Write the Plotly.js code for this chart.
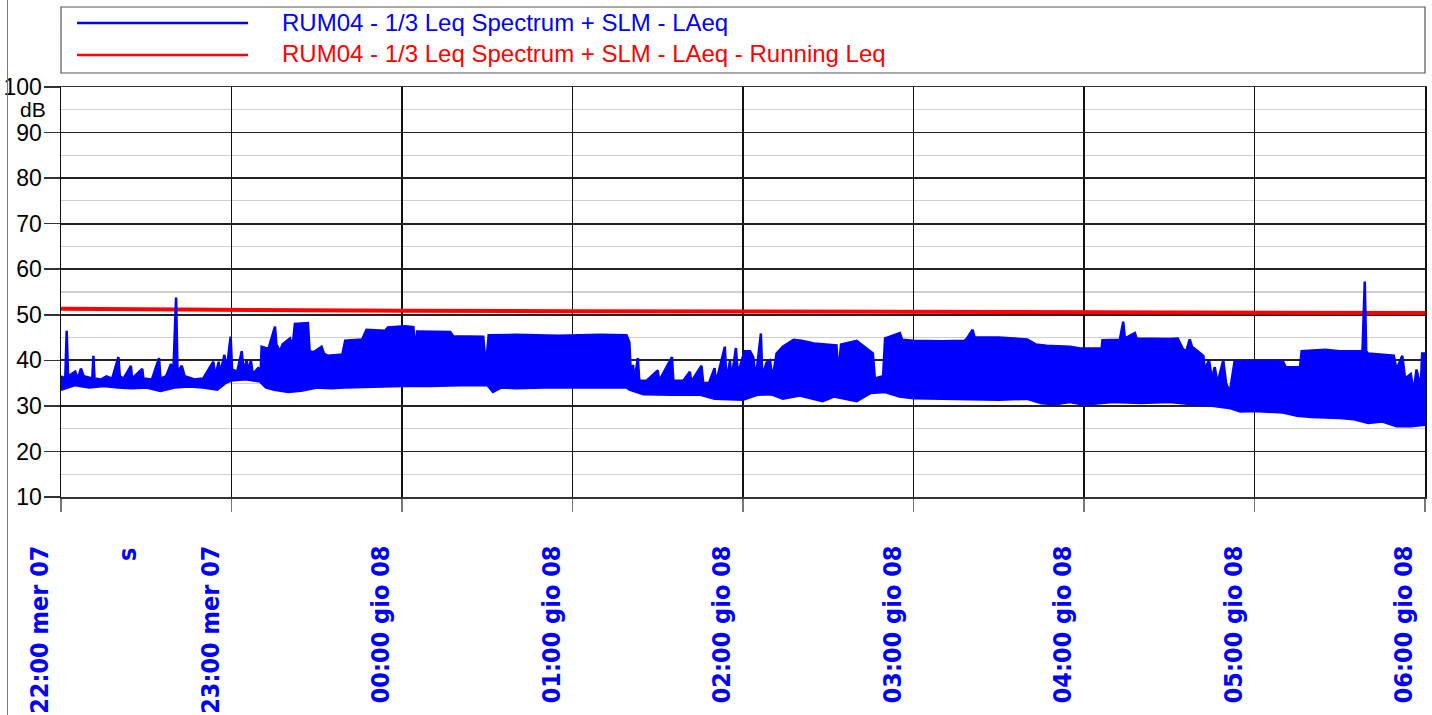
<!DOCTYPE html>
<html>
<head>
<meta charset="utf-8">
<script src="https://cdn.plot.ly/plotly-3.0.1.min.js"></script>
<style>
  html, body { margin: 0; padding: 0; background: #fff; }
  #wrap { position: relative; width: 1432px; height: 715px; }
  #chart { width: 1432px; height: 715px; }
  #edge { position: absolute; left: 7px; top: 0; width: 0; height: 715px; border-left: 1px solid #6a6aff; pointer-events: none; }
</style>
</head>
<body>
<div id="wrap"><div id="chart"></div><div id="edge"></div></div>
<script>
// ---- Data (minutes after 22:00 on mer 07) ----
const series1Name = 'RUM04 - 1/3 Leq Spectrum + SLM - LAeq';
const series2Name = 'RUM04 - 1/3 Leq Spectrum + SLM - LAeq - Running Leq';

const tickMinutes = [0, 60, 120, 180, 240, 300, 360, 420, 480];
const tickLabels = ['22:00 mer 07', '23:00 mer 07', '00:00 gio 08', '01:00 gio 08', '02:00 gio 08',
                    '03:00 gio 08', '04:00 gio 08', '05:00 gio 08', '06:00 gio 08'];
const yTicks = [10, 20, 30, 40, 50, 60, 70, 80, 90, 100];

// LAeq – upper edge of the dense trace
const highMin = [0,1.5,2,2.5,5,6,7,8,11,11.4,11.8,14,16,18,20.2,20.7,22,24.6,25,28.6,29,32,34.5,35,37,38.7,39.5,40.5,41,42.5,43.5,47,50,53.6,54.3,55.5,56,57.5,58.2,59.7,60.2,62,63.6,64.3,65.3,66,66.8,67.5,69.4,70.3,70.6,73,75.3,75.8,77,78,80.6,81.5,82.3,86.9,87.5,89,91.7,92.5,94,99,100,106,107.5,114,115,121,124,124.6,125.3,137,138,148.6,149.5,150.5,160,175,190,199,200,200.6,201.3,201.8,203,203.5,206,210,210.5,215,215.5,219,221.3,221.8,225.4,226,228,230,230.5,233.6,234.2,235.4,236,237.5,238.2,240.5,242.5,243.6,244.5,246.3,246.8,248.3,249.5,250.4,251.8,254,257.8,260.6,265,270,272.9,273.5,274.5,280,285.7,286.4,289.3,290,295.2,296,300,310,318,318.7,320.8,321.5,330,340,343,346.8,355,358.6,366.2,366.5,372.6,373.8,374.4,377.9,378.5,390,393,394.8,396,397.2,398,400,402,402.5,404,405,406,407,409,410,411.3,413,420,430,431,436,436.6,445,450,458,458.8,459.3,460,469,470,472,473,475,476,477,478.5,479,480];
const highDb  = [36.5,36,46.5,36.5,37.5,36,38.2,36.5,36,41,36,35.8,36.5,36,40.7,36.5,36,38.8,36,38.1,36,35.8,40.5,36,36.5,39.2,37,53.8,37.5,38.8,36.5,35.8,36,39.7,36.5,39.7,37,41.2,37.5,45.2,38,37.5,42,37.5,40,37.5,40,37,38.3,38,43,42.5,47.4,43.5,42,43.5,44.8,43,48,48.2,42,41.8,43,41.5,41,41.3,44.3,44.6,46.7,46.5,47.2,47.5,47.3,42,46.3,46.2,45.3,45.2,38.5,45.5,45.6,45.4,45.6,45.5,44,36,39,35.5,40.5,35.5,35.5,37.8,35.5,40.7,35.5,35.5,37.5,35.3,38.8,35,35,38.3,35,43,35.5,39.8,36,42.7,37,42,42,40.7,36,45.9,36.5,39.5,40,36,41.5,43,44.5,44.3,43.7,43.5,43.3,37,43.5,44.3,41.5,36,36.5,44.8,46,44.5,44.3,44.2,44.3,44.7,46.7,45,45,44.6,43.5,43.2,43,42.6,42.6,44.4,44.5,48.5,44.8,46,44.8,44.7,44.8,42.5,42,44.6,43,42,41,38,40,36,38.5,35,40,35,33,39.8,39.8,39.8,38.5,38.5,42,42.3,42,42,57.3,42,41.5,41,38,41,36,37,33,38,34,41.5,41.5];

// LAeq – lower edge of the dense trace
const lowMin = [0,5,10,15,20,25,30,35,40,45,50,55,58,60,65,70,72,75,80,85,90,95,100,110,120,130,140,150,152,155,160,170,180,190,199,200,205,215,225,230,240,245,250,254,260,268,272,280,285,290,295,300,310,320,330,340,345,350,355,360,370,380,390,400,405,411,415,420,430,435,440,450,455,460,465,470,475,480];
const lowDb  = [33.5,34.5,34,34.3,34,33.8,34,33.2,34,34.2,34,33.5,35,35.5,35.8,35.3,34,33.5,33,33.3,34,33.8,34,34.2,34.3,34.3,34.5,34.5,33,34,33.8,34,34,34,34,33.5,32.5,32.4,32.4,31.5,31.3,32.4,32.5,31.5,32.2,31,32,31,32.8,33,32,31.6,31.5,31.5,31.3,31.5,30.5,30.3,30.8,30.2,30.8,30.6,30.8,30.2,30,29.5,28.7,28.8,28.5,27.8,27.5,27.3,27,26.2,26.5,25.5,25.5,25.8];

// Running Leq
const runMin = [0, 20, 60, 120, 180, 240, 300, 360, 420, 480];
const runDb  = [51.3, 51.2, 51.0, 50.9, 50.8, 50.7, 50.6, 50.5, 50.4, 50.4];

// ---- Styles ----
const BLUE = '#0000ff';
const RED = '#ff0000';

const traces = [
  { x: runMin, y: runDb, name: series2Name, mode: 'lines', line: { color: RED, width: 4 }, hoverinfo: 'skip' },
  { x: lowMin, y: lowDb, name: series1Name, mode: 'lines', line: { color: BLUE, width: 2 }, hoverinfo: 'skip' },
  { x: highMin, y: highDb, name: series1Name, mode: 'lines', fill: 'tonexty', fillcolor: BLUE,
    line: { color: BLUE, width: 2.5 }, hoverinfo: 'skip' }
];

// paper-coordinate helpers (plot area: x 61..1425, y 87..497)
const L = 61, R = 1425, T = 87, B = 497;
const px = v => (v - L) / (R - L);
const py = v => (B - v) / (B - T);

const shapes = [
  { type: 'rect', xref: 'paper', yref: 'paper', x0: 0, x1: 1, y0: py(73), y1: py(7),
    line: { color: '#555', width: 1.2 }, fillcolor: 'rgba(0,0,0,0)' },
  { type: 'line', xref: 'paper', yref: 'paper', x0: px(77), x1: px(248), y0: py(23), y1: py(23),
    line: { color: BLUE, width: 2.5 } },
  { type: 'line', xref: 'paper', yref: 'paper', x0: px(77), x1: px(248), y0: py(55), y1: py(55),
    line: { color: RED, width: 2.5 } }
];

const annotations = [
  { xref: 'paper', yref: 'paper', x: px(280), y: py(22), xanchor: 'left', yanchor: 'middle',
    text: series1Name, showarrow: false, font: { family: 'Liberation Sans, Arial', size: 24, color: BLUE } },
  { xref: 'paper', yref: 'paper', x: px(280), y: py(54), xanchor: 'left', yanchor: 'middle',
    text: series2Name, showarrow: false, font: { family: 'Liberation Sans, Arial', size: 24, color: RED } },
  { xref: 'paper', yref: 'y', x: px(33), y: 95, xanchor: 'center', yanchor: 'middle',
    text: 'dB', showarrow: false, font: { family: 'Liberation Sans, Arial', size: 21, color: '#000' } },
  { xref: 'paper', yref: 'paper', x: px(127), y: py(555), xanchor: 'center', yanchor: 'middle', textangle: -90,
    text: '<b>s</b>', showarrow: false, font: { family: 'DejaVu Sans Condensed, DejaVu Sans', size: 25, color: BLUE } }
];

const layout = {
  width: 1432, height: 715,
  margin: { l: L, r: 1432 - R, t: T, b: 715 - B, pad: 0 },
  paper_bgcolor: '#fff', plot_bgcolor: '#fff',
  showlegend: false,
  xaxis: {
    type: 'linear', range: [0, 480], tickmode: 'array', tickvals: tickMinutes, ticktext: tickLabels,
    tickangle: -90, ticks: 'outside', ticklen: 13, tickwidth: 1.5, tickcolor: '#777',
    ticklabelshift: -21, ticklabelstandoff: 24,
    tickfont: { family: 'DejaVu Sans Condensed, DejaVu Sans', size: 25, color: BLUE, weight: 'bold' },
    showgrid: true, gridcolor: '#111', gridwidth: 1.5, zeroline: false,
    showline: true, linecolor: '#333', linewidth: 1.5, mirror: true
  },
  yaxis: {
    range: [10, 100], tickmode: 'array', tickvals: yTicks,
    ticks: 'outside', ticklen: 16, tickwidth: 1.5, tickcolor: '#333',
    ticklabelstandoff: -3,
    tickfont: { family: 'Liberation Sans, Arial', size: 23, color: '#000' },
    showgrid: true, gridcolor: '#222', gridwidth: 1.7, zeroline: false,
    minor: { dtick: 5, showgrid: true, gridcolor: '#cfcfcf', gridwidth: 1.2, ticks: '' },
    showline: true, linecolor: '#111', linewidth: 1.5, mirror: true
  },
  shapes: shapes,
  annotations: annotations
};

Plotly.newPlot('chart', traces, layout, { staticPlot: true, displayModeBar: false });
</script>
</body>
</html>
